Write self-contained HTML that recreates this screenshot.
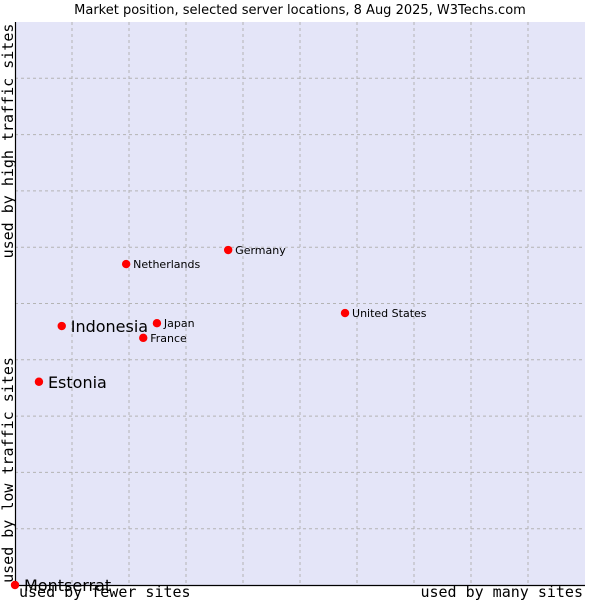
<!DOCTYPE html>
<html><head><meta charset="utf-8"><style>
body{margin:0;background:#fff;width:600px;height:600px;overflow:hidden}
svg{display:block}
text{font-family:"DejaVu Sans","Liberation Sans",sans-serif}
.mono{font-family:"DejaVu Sans Mono","Liberation Mono",monospace;font-size:15px}
</style></head><body>
<svg id="c" width="600" height="600">
<text x="300" y="14" text-anchor="middle" font-size="13" fill="#000">Market position, selected server locations, 8 Aug 2025, W3Techs.com</text>
<rect x="15" y="22" width="570" height="563" fill="#e4e5f8"/>
<g id="grid"></g>
<path d="M15.5 22V585.5H585" stroke="#000" stroke-width="1.2" fill="none"/>
<text class="mono" transform="translate(13,141) rotate(-90)" text-anchor="middle">used by high traffic sites</text>
<text class="mono" transform="translate(13,470) rotate(-90)" text-anchor="middle">used by low traffic sites</text>
<text class="mono" x="19" y="597">used by fewer sites</text>
<text class="mono" x="583" y="597" text-anchor="end">used by many sites</text>
<g id="pts"></g>
</svg>
<script>
const names=["Montserrat","Estonia","Indonesia","Netherlands","Germany","Japan","France","United States"];
const xVals=[0,4.2,8.2,19.5,37.4,24.9,22.5,57.9];
const yVals=[0,36.1,46.0,57.0,59.5,46.5,43.9,48.3];
const big=[true,true,true,false,false,false,false,false];
const NS="http://www.w3.org/2000/svg";
const X=v=>15+v*5.7, Y=v=>585-v*5.63;
const g=document.getElementById('grid');
for(let i=1;i<10;i++){
  const l=document.createElementNS(NS,'line');
  l.setAttribute('x1',X(i*10));l.setAttribute('x2',X(i*10));l.setAttribute('y1',22);l.setAttribute('y2',585);
  l.setAttribute('stroke','#b4b4b4');l.setAttribute('stroke-dasharray','3,3');
  
  
  g.appendChild(l);
  const h=document.createElementNS(NS,'line');
  h.setAttribute('y1',Y(i*10));h.setAttribute('y2',Y(i*10));h.setAttribute('x1',15);h.setAttribute('x2',585);
  h.setAttribute('stroke','#b4b4b4');h.setAttribute('stroke-dasharray','3,3');
  
  
  g.appendChild(h);
}
const p=document.getElementById('pts');
names.forEach((n,i)=>{
  const cx=X(xVals[i]),cy=Y(yVals[i]);
  const c=document.createElementNS(NS,'circle');
  c.setAttribute('cx',cx);c.setAttribute('cy',cy);c.setAttribute('r',4.2);c.setAttribute('fill','#f00');
  
  
  p.appendChild(c);
  const t=document.createElementNS(NS,'text');
  t.setAttribute('x',cx+(big[i]?9:7));t.setAttribute('y',cy+(big[i]?6:4));
  t.setAttribute('font-size',big[i]?16:11);t.setAttribute('fill','#000');
  t.textContent=n;
  
  
  p.appendChild(t);
});
</script>
</body></html>
